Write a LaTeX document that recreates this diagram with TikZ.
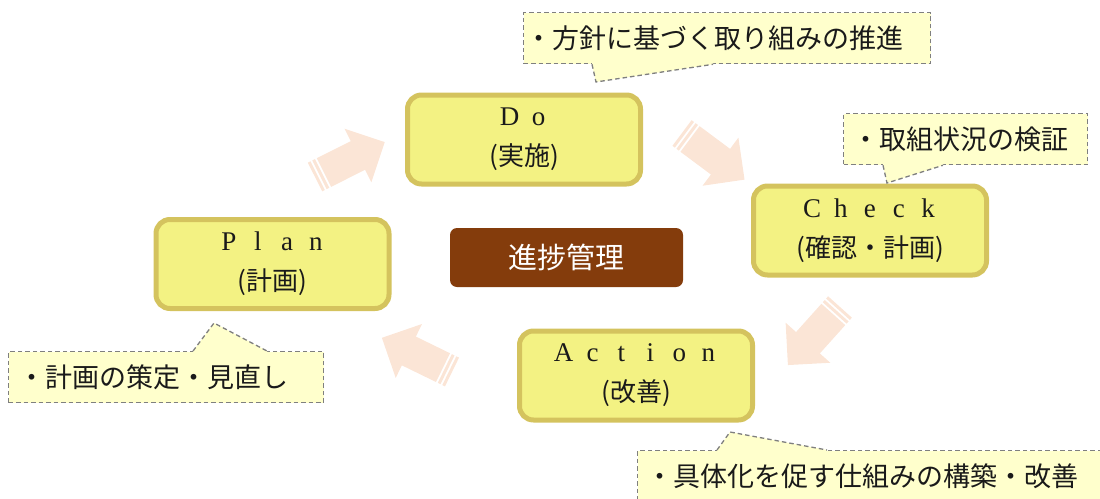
\documentclass[tikz,border=0pt]{standalone}
\usepackage{fontspec}
\usepackage{tikz}
\usetikzlibrary{calc}
\newfontfamily\jp{Noto Sans CJK JP}
\newfontfamily\lat{Liberation Serif}
\definecolor{ink}{HTML}{1A1A1A}
\definecolor{pad}{HTML}{F3F283}
\definecolor{padline}{HTML}{D4C35E}
\definecolor{memo}{HTML}{FFFFCC}
\definecolor{memoline}{HTML}{7F7F7F}
\definecolor{peach}{HTML}{FBE5D6}
\definecolor{rust}{HTML}{843C0C}
\newcommand\lsp[1]{\makebox[29pt]{\lat\fontsize{27}{40}\selectfont #1}}
% callout tail: edge corner, start, end, inward shift, tip
\newcommand\memotail[5]{%
  \fill[memo] ($(#1)+(#2,#4)$) -- ($(#1)+(#2,0)$) -- (#5) -- ($(#1)+(#3,0)$) -- ($(#1)+(#3,#4)$) -- cycle;
  \draw[memodash] ($(#1)+(#2,0)$) -- (#5) -- ($(#1)+(#3,0)$);}
\tikzset{
  stepbox/.style={rounded corners=14pt,draw=padline,fill=pad,line width=5pt,
    minimum width=233pt,minimum height=89pt,align=center,text=ink,
    font=\fontsize{26}{40}\selectfont},
  memodash/.style={draw=memoline,line width=1.3pt,dash pattern=on 4.5pt off 3pt},
  memobox/.style={memodash,fill=memo,anchor=north west,minimum height=51pt,
    inner xsep=9pt,align=left,text=ink,font=\jp\fontsize{27}{30}\selectfont},
  hub/.style={rounded corners=7pt,fill=rust,text=white,minimum width=233pt,
    minimum height=59pt,font=\jp\fontsize{29}{32}\selectfont},
  stripearrow/.pic={
    \fill[peach] (0,-16) rectangle (3,16) (5,-16) rectangle (8,16)
      (10,-16) -- (48,-16) -- (48,-30) -- (78,0) -- (48,30) -- (48,16) -- (10,16) -- cycle;}
}
\begin{document}
\begin{tikzpicture}[x=1pt,y=-1pt]
    \useasboundingbox (0,0) rectangle (1100,498);
    \clip (0,0) rectangle (1100,498);
    % cycle arrows
    \pic[rotate=26.6] at (315,177) {stripearrow};
    \pic[rotate=-36.7] at (682,133) {stripearrow};
    \pic[rotate=-131.9] at (840,307) {stripearrow};
    \pic[rotate=154] at (452,372) {stripearrow};
    % PDCA steps
    \node[stepbox] (plan) at (272.5,264) {\lsp{P}\lsp{l}\lsp{a}\lsp{n}\\{\jp (計画)}};
    \node[stepbox] (do) at (524,139.5) {\lsp{D}\lsp{o}\\{\jp (実施)}};
    \node[stepbox] (check) at (870,230.5) {\lsp{C}\lsp{h}\lsp{e}\lsp{c}\lsp{k}\\{\jp (確認・計画)}};
    \node[stepbox] (action) at (636,375.5) {\lsp{A}\lsp{c}\lsp{t}\lsp{i}\lsp{o}\lsp{n}\\{\jp (改善)}};
    \node[hub] (hub) at (566.5,257.5) {進捗管理};
    % callouts
    \node[memobox,inner xsep=2pt,text width=403pt] (memodo) at (523,12) {・方針に基づく取り組みの推進};
    \node[memobox,text width=226pt] (memocheck) at (843,113) {・取組状況の検証};
    \node[memobox,inner xsep=10pt,text width=295pt] (memoplan) at (8,351) {・計画の策定・見直し};
    \node[memobox,text width=455pt] (memoaction) at (637,450) {・具体化を促す仕組みの構築・改善};
    \coordinate (tipdo) at (596,82);
    \coordinate (tipcheck) at (887,183);
    \coordinate (tipplan) at (214,323);
    \coordinate (tipaction) at (730,432);
    \memotail{memodo.south west}{69}{190}{-3}{tipdo}
    \memotail{memocheck.south west}{40}{100}{-3}{tipcheck}
    \memotail{memoplan.north west}{185}{259}{3}{tipplan}
    \memotail{memoaction.north west}{80}{190}{3}{tipaction}
  \end{tikzpicture}
\end{document}
